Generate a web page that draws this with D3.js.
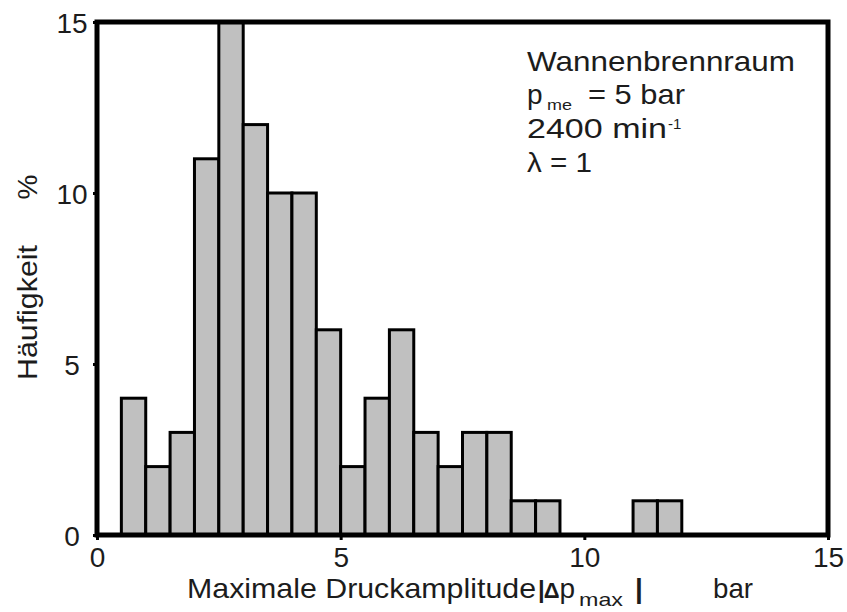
<!DOCTYPE html>
<html>
<head>
<meta charset="utf-8">
<script src="https://cdn.jsdelivr.net/npm/d3@7/dist/d3.min.js"></script>
<style>
  html, body { margin: 0; padding: 0; background: #fff; }
  svg text { font-family: "Liberation Sans", Arial, sans-serif; fill: #1c1c1c; }
</style>
</head>
<body>
<svg id="chart" width="847" height="612"></svg>
<script>
// Histogram of the maximum pressure amplitude (bin width 0.5 bar)
const binStart = [0.5, 1.0, 1.5, 2.0, 2.5, 3.0, 3.5, 4.0, 4.5, 5.0, 5.5, 6.0, 6.5, 7.0, 7.5, 8.0, 8.5, 9.0, 9.5, 10.0, 10.5, 11.0, 11.5];
const frequency = [4, 2, 3, 11, 15, 12, 10, 10, 6, 2, 4, 6, 3, 2, 3, 3, 1, 1, 0, 0, 0, 1, 1];
const binWidth = 0.5;
const xTicks = [0, 5, 10, 15];
const yTicks = [0, 5, 10, 15];
const infoLines = ["Wannenbrennraum", "= 5 bar", "2400 min", "λ = 1"];

const bins = binStart.map((s, i) => ({ x0: s, x1: s + binWidth, v: frequency[i] }));

const svg = d3.select("#chart");
const plotLeft = 97, plotRight = 828, plotTop = 22, plotBottom = 535;

const x = d3.scaleLinear().domain([0, 15]).range([plotLeft, plotRight]);
const y = d3.scaleLinear().domain([0, 15]).range([plotBottom, plotTop]);

// bars
svg.append("g")
  .selectAll("rect")
  .data(bins.filter(d => d.v > 0))
  .join("rect")
  .attr("x", d => x(d.x0))
  .attr("y", d => y(d.v))
  .attr("width", d => x(d.x1) - x(d.x0))
  .attr("height", d => y(0) - y(d.v))
  .attr("fill", "#c0c0c0")
  .attr("stroke", "#000")
  .attr("stroke-width", 3);

// frame
svg.append("rect")
  .attr("x", plotLeft).attr("y", plotTop)
  .attr("width", plotRight - plotLeft).attr("height", plotBottom - plotTop)
  .attr("fill", "none").attr("stroke", "#000").attr("stroke-width", 5);

// axes
const xAxis = d3.axisBottom(x).tickValues(xTicks).tickSize(5).tickPadding(8).tickFormat(d3.format("d"));
const gx = svg.append("g").attr("transform", `translate(0,${plotBottom})`).call(xAxis);
gx.select(".domain").remove();
gx.selectAll(".tick line").attr("stroke", "#000").attr("stroke-width", 3);
gx.selectAll(".tick text").attr("font-size", 28).attr("dy", "0.71em").attr("y", 12);

const yAxis = d3.axisLeft(y).tickValues(yTicks).tickSize(4).tickFormat(d3.format("d"));
const gy = svg.append("g").attr("transform", `translate(${plotLeft},0)`).call(yAxis);
gy.select(".domain").remove();
gy.selectAll(".tick line").attr("stroke", "#000").attr("stroke-width", 3);
gy.selectAll(".tick text")
  .attr("font-size", 28)
  .attr("text-anchor", "middle")
  .attr("x", -25)
  .attr("dy", "0.36em");

// x-axis title: Maximale Druckamplitude |Δp_max|  bar
svg.append("text").attr("x", 187).attr("y", 598).attr("font-size", 28)
  .attr("textLength", 349).attr("lengthAdjust", "spacingAndGlyphs")
  .text("Maximale Druckamplitude");
const dp = svg.append("text").attr("x", 538).attr("y", 598).attr("font-size", 28);
dp.append("tspan").attr("font-weight", "bold").attr("font-size", 24).text("|");
dp.append("tspan").attr("font-weight", "bold").attr("font-size", 22).attr("dx", -1).text("Δ");
dp.append("tspan").text("p");
svg.append("text").attr("x", 579).attr("y", 606).attr("font-size", 19)
  .attr("textLength", 44).attr("lengthAdjust", "spacingAndGlyphs")
  .text("max");
svg.append("text").attr("x", 635).attr("y", 598).attr("font-size", 28)
  .attr("font-weight", "bold").text("|");
svg.append("text").attr("x", 713).attr("y", 598).attr("font-size", 28)
  .attr("textLength", 40).attr("lengthAdjust", "spacingAndGlyphs").text("bar");

// y-axis title
svg.append("text")
  .attr("transform", "translate(37,380) rotate(-90)")
  .attr("font-size", 28)
  .attr("textLength", 135).attr("lengthAdjust", "spacingAndGlyphs")
  .text("Häufigkeit");
svg.append("text")
  .attr("transform", "translate(37,187) rotate(-90)")
  .attr("font-size", 28)
  .attr("text-anchor", "middle")
  .text("%");

// operating point annotation
const ax = 527;
svg.append("text").attr("x", ax).attr("y", 71).attr("font-size", 28)
  .attr("textLength", 268).attr("lengthAdjust", "spacingAndGlyphs").text(infoLines[0]);

svg.append("text").attr("x", ax).attr("y", 104).attr("font-size", 28).text("p");
svg.append("text").attr("x", 547).attr("y", 110).attr("font-size", 14)
  .attr("textLength", 25).attr("lengthAdjust", "spacingAndGlyphs").text("me");
svg.append("text").attr("x", 588).attr("y", 104).attr("font-size", 28)
  .attr("textLength", 97).attr("lengthAdjust", "spacingAndGlyphs").text(infoLines[1]);

svg.append("text").attr("x", ax).attr("y", 138).attr("font-size", 28)
  .attr("textLength", 140).attr("lengthAdjust", "spacingAndGlyphs").text(infoLines[2]);
svg.append("text").attr("x", 668).attr("y", 129).attr("font-size", 15).text("-1");

svg.append("text").attr("x", ax).attr("y", 172).attr("font-size", 28)
  .attr("textLength", 65).attr("lengthAdjust", "spacingAndGlyphs").text(infoLines[3]);
</script>
</body>
</html>
